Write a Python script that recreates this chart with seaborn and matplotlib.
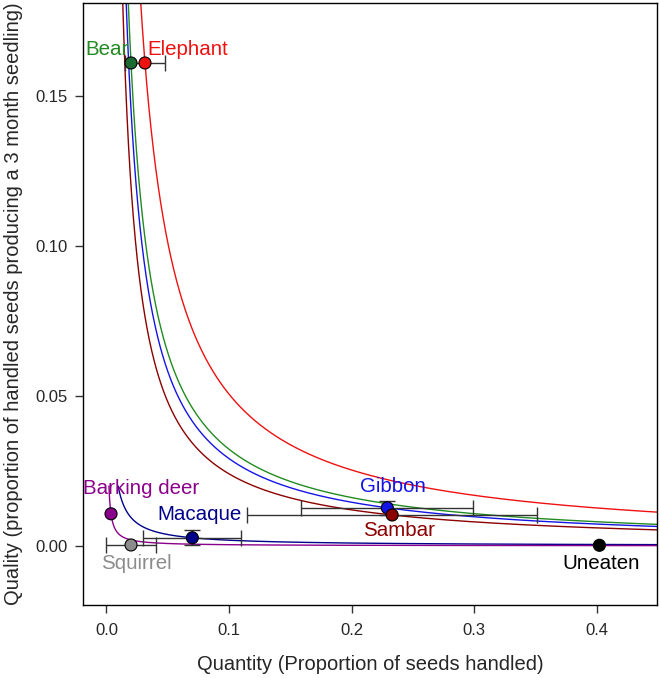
import numpy as np
import pandas as pd
import matplotlib
matplotlib.use("Agg")
import matplotlib.pyplot as plt
import seaborn as sns

# ---- data ----
dispersers = ["Bear", "Elephant", "Barking deer", "Squirrel", "Macaque", "Gibbon", "Sambar", "Uneaten"]
quantity   = [0.020, 0.0314, 0.0037, 0.020, 0.070, 0.229, 0.233, 0.402]
quality    = [0.161, 0.161, 0.0107, 0.0003, 0.0027, 0.0127, 0.0103, 0.0002]
quantity_err = [np.nan, 0.0165, np.nan, 0.020, 0.040, 0.070, 0.118, np.nan]
quality_err  = [np.nan, np.nan, np.nan, np.nan, 0.0025, 0.0024, np.nan, np.nan]

# iso-effectiveness curves (quantity x quality = constant)
curve_names = ["Elephant", "Bear", "Gibbon", "Sambar", "Macaque", "Barking deer"]
curve_ymax  = [0.2, 0.2, 0.2, 0.2, 0.02, 0.02]

colors = {
    "Bear": "#228B22", "Elephant": "#EE1111", "Barking deer": "#8B008B",
    "Squirrel": "#8C8C8C", "Macaque": "#00008B", "Gibbon": "#1414E6",
    "Sambar": "#8B0000", "Uneaten": "#000000",
}
point_colors = dict(colors)
point_colors["Bear"] = "#1B6B32"

xticks = [0.0, 0.1, 0.2, 0.3, 0.4]
yticks = [0.00, 0.05, 0.10, 0.15]

sns.set_style("ticks")
plt.rcParams["font.family"] = ["Liberation Sans", "DejaVu Sans"]

fig = plt.figure(figsize=(6.6, 6.78), dpi=100)
ax = fig.add_axes([0.1253, 0.1077, 0.9955 - 0.1253, 0.9956 - 0.1077])

df = pd.DataFrame({"disperser": dispersers, "quantity": quantity, "quality": quality,
                   "qerr": quantity_err, "yerr": quality_err})

# curves
rows = []
xs = np.geomspace(1e-4, 0.46, 3000)
for name, ymax in zip(curve_names, curve_ymax):
    r = df[df.disperser == name].iloc[0]
    k = r.quantity * r.quality
    ys = k / xs
    m = ys <= ymax
    rows.append(pd.DataFrame({"x": xs[m], "y": ys[m], "disperser": name}))
curves = pd.concat(rows, ignore_index=True)
sns.lineplot(data=curves, x="x", y="y", hue="disperser", palette=colors, sort=False,
             estimator=None, linewidth=1.0, legend=False, ax=ax, zorder=2)

# error bars
for _, r in df.iterrows():
    if not np.isnan(r.qerr):
        ax.errorbar(r.quantity, r.quality, xerr=r.qerr, fmt="none", ecolor="#333333",
                    elinewidth=1.0, capsize=6, capthick=1.0, zorder=3)
    if not np.isnan(r.yerr):
        ax.errorbar(r.quantity, r.quality, yerr=r.yerr, fmt="none", ecolor="#333333",
                    elinewidth=1.0, capsize=6, capthick=1.0, zorder=3)

# points
sns.scatterplot(data=df, x="quantity", y="quality", hue="disperser", palette=point_colors,
                s=75, edgecolor="black", linewidth=0.8, legend=False, ax=ax, zorder=4)

# labels (offsets in points)
label_style = {
    "Bear": ((-1.5, 10), "right"),
    "Elephant": ((1.5, 10), "left"),
    "Barking deer": ((22, 18), "center"),
    "Macaque": ((5, 16.5), "center"),
    "Squirrel": ((4, -13), "center"),
    "Gibbon": ((4, 15), "center"),
    "Sambar": ((5, -11), "center"),
    "Uneaten": ((1.5, -13), "center"),
}
for _, r in df.iterrows():
    off, ha = label_style[r.disperser]
    ax.annotate(r.disperser, (r.quantity, r.quality), xytext=off, textcoords="offset points",
                ha=ha, va="center", fontsize=14.8, color=colors[r.disperser], zorder=5)

ax.set_xlim(-0.0194, 0.449)
ax.set_ylim(-0.0197, 0.181)
ax.set_xticks(xticks)
ax.set_xticklabels([f"{v:.1f}" for v in xticks])
ax.set_yticks(yticks)
ax.set_yticklabels([f"{v:.2f}" for v in yticks])
ax.tick_params(axis="both", direction="out", length=6, width=1, labelsize=12, color="#333333", pad=5)
ax.tick_params(axis="x", pad=7)
for s in ax.spines.values():
    s.set_visible(True)
    s.set_linewidth(1.0)
    s.set_color("black")
ax.set_xlabel("Quantity (Proportion of seeds handled)", fontsize=14.5, labelpad=12)
ax.set_ylabel("Quality (proportion of handled seeds producing a 3 month seedling)", fontsize=14.5, labelpad=9)

fig.savefig("out.png", dpi=100)
